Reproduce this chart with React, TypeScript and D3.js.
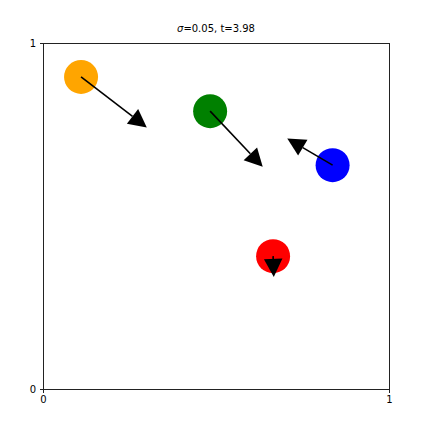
import React, { useRef, useEffect } from 'react';
import * as d3 from 'd3';

// particle state at t=3.98 (data units, axes 0..1)
const names = ['orange', 'green', 'blue', 'red'];
const posX = [0.110, 0.483, 0.837, 0.665];
const posY = [0.902, 0.803, 0.647, 0.384];
const velX = [0.190, 0.152, -0.131, 0.002];
const velY = [-0.146, -0.161, 0.077, -0.060];
const tickVals = [0, 1];
const sigma = '0.05';
const tNow = '3.98';

const W = 432, H = 432;
const M = { left: 43, right: 43, top: 43, bottom: 43 };

const App = () => {
    const svgRef = useRef<SVGSVGElement>(null);

    useEffect(() => {
        document.body.style.margin = '0';
        if (!svgRef.current) return;
        const svg = d3.select(svgRef.current);
        svg.selectAll('*').remove();

        const x = d3.scaleLinear().domain([0, 1]).range([M.left, W - M.right]);
        const y = d3.scaleLinear().domain([0, 1]).range([H - M.bottom, M.top]);
        const font = 'DejaVu Sans, sans-serif';

        // particles
        svg.append('g').selectAll('circle').data(names).enter().append('circle')
            .attr('cx', (_, i) => x(posX[i]))
            .attr('cy', (_, i) => y(posY[i]))
            .attr('r', 17)
            .attr('fill', d => d);

        // velocity arrows (shaft + filled head, tip at pos + vel)
        const hl = 18, hw = 18.5;
        const arrows = svg.append('g');
        names.forEach((_, i) => {
            const x0 = x(posX[i]), y0 = y(posY[i]);
            const x1 = x(posX[i] + velX[i]), y1 = y(posY[i] + velY[i]);
            const len = Math.hypot(x1 - x0, y1 - y0);
            const ux = (x1 - x0) / len, uy = (y1 - y0) / len;
            const bx = x1 - ux * hl, by = y1 - uy * hl;
            const nx = -uy, ny = ux;
            if (len > hl) {
                arrows.append('line')
                    .attr('x1', x0).attr('y1', y0).attr('x2', bx).attr('y2', by)
                    .attr('stroke', '#000').attr('stroke-width', 1.6);
            }
            arrows.append('path')
                .attr('d', `M${x1},${y1}L${bx + nx * hw / 2},${by + ny * hw / 2}L${bx - nx * hw / 2},${by - ny * hw / 2}Z`)
                .attr('fill', '#000');
        });

        // axes
        const ax = svg.append('g').attr('transform', `translate(0,${H - M.bottom})`)
            .call(d3.axisBottom(x).tickValues(tickVals).tickFormat(d3.format('d')).tickSize(3.5).tickPadding(3.5));
        const ay = svg.append('g').attr('transform', `translate(${M.left},0)`)
            .call(d3.axisLeft(y).tickValues(tickVals).tickFormat(d3.format('d')).tickSize(3.5).tickPadding(3.5));
        [ax, ay].forEach(g => {
            g.select('.domain').remove();
            g.selectAll('text').attr('font-family', font).attr('font-size', 10).attr('fill', '#000');
            g.selectAll('line').attr('stroke', '#222').attr('stroke-width', 1).attr('shape-rendering', 'crispEdges');
        });

        // frame
        svg.append('rect')
            .attr('x', M.left).attr('y', M.top)
            .attr('width', W - M.left - M.right).attr('height', H - M.top - M.bottom)
            .attr('fill', 'none').attr('stroke', '#222').attr('stroke-width', 1)
            .attr('shape-rendering', 'crispEdges');

        // title
        const title = svg.append('text')
            .attr('x', W / 2).attr('y', M.top - 11)
            .attr('text-anchor', 'middle')
            .attr('font-family', font).attr('font-size', 10).attr('fill', '#000');
        title.append('tspan').attr('font-style', 'italic').text('σ');
        title.append('tspan').text(`=${sigma}, t=${tNow}`);
    }, []);

    return <svg ref={svgRef} width={W} height={H} style={{ display: 'block', background: '#fff' }} />;
};

export default App;
